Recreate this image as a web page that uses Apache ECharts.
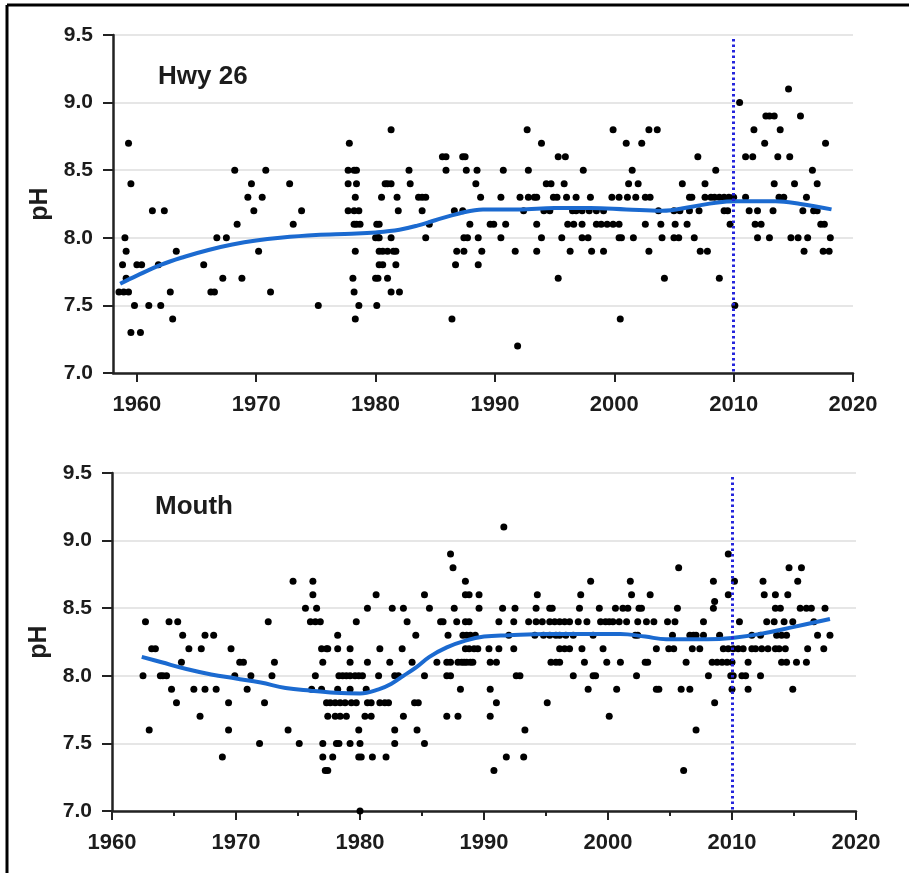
<!DOCTYPE html>
<html>
<head>
<meta charset="utf-8">
<script src="https://cdn.jsdelivr.net/npm/echarts@6/dist/echarts.min.js"></script>
<style>
  html, body { margin: 0; padding: 0; background: #fff; }
  #chart { width: 909px; height: 873px; }
</style>
</head>
<body>
<div id="chart"></div>
<script>
// year, pH readings at Hwy 26
var hwyPoints = [
  [1958.5,7.6],[1958.8,7.8],[1958.9,7.6],[1959.0,8.0],[1959.1,7.9],[1959.1,7.7],[1959.3,8.7],[1959.3,7.6],[1959.5,8.4],[1959.5,7.3],[1959.8,7.5],[1960.0,7.8],[1960.3,7.3],[1960.4,7.8],
  [1961.0,7.5],[1961.3,8.2],[1961.8,7.8],[1962.0,7.5],[1962.3,8.2],[1962.8,7.6],[1963.0,7.4],[1963.3,7.9],
  [1965.6,7.8],[1966.2,7.6],[1966.5,7.6],[1966.7,8.0],[1967.2,7.7],[1967.5,8.0],[1968.2,8.5],[1968.4,8.1],[1968.8,7.7],[1969.3,8.3],[1969.6,8.4],[1969.8,8.2],[1970.2,7.9],[1970.5,8.3],[1970.8,8.5],[1971.2,7.6],[1972.8,8.4],[1973.1,8.1],[1973.8,8.2],[1975.2,7.5],
  [1977.7,8.5],[1977.7,8.4],[1977.7,8.2],[1977.8,8.7],[1978.1,7.7],[1978.2,8.5],[1978.2,8.2],[1978.2,8.1],[1978.2,7.6],[1978.3,8.3],[1978.3,7.9],[1978.3,7.4],[1978.4,8.5],[1978.4,8.4],[1978.4,8.1],[1978.6,8.2],[1978.6,7.5],[1978.7,8.1],
  [1980.0,8.0],[1980.0,7.7],[1980.1,8.1],[1980.1,7.5],[1980.2,8.0],[1980.2,7.7],[1980.3,8.1],[1980.3,8.0],[1980.3,7.9],[1980.3,7.8],[1980.5,8.3],[1980.6,7.9],[1980.6,7.8],[1980.8,8.4],[1981.0,8.4],[1981.0,7.9],[1981.0,7.7],[1981.3,8.8],[1981.3,8.4],[1981.3,8.0],[1981.3,7.6],[1981.5,7.9],[1981.7,7.9],[1981.7,7.8],[1981.8,8.3],[1981.9,8.2],[1982.0,7.6],
  [1982.8,8.5],[1982.9,8.4],[1983.6,8.3],[1983.9,8.3],[1983.9,8.2],[1984.2,8.3],[1984.2,8.0],[1984.5,8.1],
  [1985.6,8.6],[1985.9,8.6],[1985.9,8.5],[1986.4,7.4],[1986.6,8.2],[1986.7,7.8],[1986.8,7.9],[1987.3,8.6],[1987.3,8.2],[1987.4,8.0],[1987.4,7.9],[1987.5,8.6],[1987.6,8.5],[1987.7,8.0],[1987.9,8.1],[1988.4,8.4],[1988.5,8.5],[1988.6,8.0],[1988.6,7.8],[1988.8,8.3],[1988.9,7.9],
  [1989.6,8.1],[1989.9,8.1],[1990.5,8.3],[1990.5,8.0],[1990.7,8.5],[1990.9,8.1],[1991.7,7.9],[1991.9,7.2],[1992.1,8.3],[1992.4,8.2],[1992.7,8.8],[1992.8,8.5],[1992.8,8.3],[1993.3,8.3],[1993.5,8.3],[1993.5,8.1],[1993.5,7.9],[1993.9,8.7],[1993.9,8.0],[1994.1,8.2],[1994.3,8.4],[1994.6,8.2],[1994.7,8.4],[1994.9,8.3],[1995.2,8.3],[1995.3,8.6],[1995.3,7.7],[1995.6,8.0],[1995.8,8.4],[1995.9,8.6],[1996.0,8.3],[1996.1,8.1],[1996.3,7.9],[1996.5,8.2],[1996.6,8.1],[1996.8,8.3],[1996.8,8.2],
  [1997.3,8.2],[1997.3,8.1],[1997.3,8.0],[1997.4,8.5],[1997.8,8.0],[1997.9,8.2],[1998.0,8.3],[1998.1,7.9],[1998.5,8.2],[1998.5,8.1],[1998.9,8.1],[1999.1,8.2],[1999.1,7.9],[1999.4,8.1],[1999.8,8.3],[1999.9,8.8],[1999.9,8.1],
  [2000.4,8.3],[2000.4,8.1],[2000.4,8.0],[2000.5,7.4],[2000.6,8.0],[2001.0,8.7],[2001.1,8.3],[2001.2,8.4],[2001.5,8.5],[2001.6,8.0],[2001.8,8.3],[2002.0,8.4],[2002.3,8.7],[2002.6,8.3],[2002.6,8.1],[2002.9,8.8],[2002.9,7.9],[2003.0,8.3],[2003.6,8.8],[2003.7,8.2],[2003.9,8.1],[2004.0,8.0],[2004.2,7.7],
  [2005.0,8.2],[2005.0,8.0],[2005.1,8.1],[2005.4,8.0],[2005.5,8.2],[2005.7,8.4],[2006.1,8.1],[2006.3,8.3],[2006.3,8.2],[2006.5,8.3],[2006.7,8.0],[2007.0,8.6],[2007.1,8.2],[2007.2,7.9],[2007.6,8.4],[2007.6,8.3],[2007.8,7.9],[2008.1,8.3],[2008.4,8.3],[2008.5,8.5],[2008.8,8.3],[2008.8,7.7],[2009.2,8.3],[2009.2,8.2],[2009.5,8.2],[2009.6,8.3],[2009.7,8.1],[2010.0,8.3],[2010.1,7.5],[2010.5,9.0],
  [2011.0,8.6],[2011.0,8.3],[2011.3,8.2],[2011.6,8.6],[2011.7,8.8],[2011.8,8.1],[2012.0,8.2],[2012.0,8.0],[2012.3,8.1],[2012.6,8.7],[2012.7,8.9],[2013.0,8.9],[2013.0,8.0],[2013.3,8.2],[2013.4,8.9],[2013.4,8.4],[2013.7,8.6],[2013.8,8.3],[2013.9,8.8],[2014.2,8.3],[2014.6,9.1],[2014.7,8.6],[2014.8,8.0],[2015.1,8.4],[2015.4,8.0],[2015.6,8.9],[2015.8,8.2],[2015.9,7.9],[2016.1,8.3],[2016.2,8.0],[2016.6,8.5],[2016.7,8.2],[2017.0,8.4],[2017.0,8.2],[2017.3,8.1],[2017.5,7.9],[2017.6,8.1],[2017.7,8.7],[2018.0,7.9],[2018.1,8.0]
];

// year, pH readings at the Mouth
var mouthPoints = [
  [1962.5,8.0],[1962.7,8.4],[1963.0,7.6],[1963.2,8.2],[1963.5,8.2],[1963.9,8.0],[1964.1,8.0],[1964.4,8.0],[1964.6,8.4],[1964.8,7.9],[1965.2,7.8],[1965.3,8.4],[1965.6,8.1],[1965.7,8.3],[1966.2,8.2],[1966.6,7.9],[1967.1,7.7],[1967.2,8.2],[1967.5,7.9],[1967.5,8.3],[1968.2,8.3],[1968.4,7.9],[1968.9,7.4],[1969.4,7.8],[1969.4,7.6],[1969.6,8.2],[1969.9,8.0],[1970.3,8.1],[1970.6,8.1],[1970.9,7.9],[1971.2,8.0],[1971.9,7.5],[1972.3,7.8],[1972.6,8.4],[1972.9,8.0],[1973.1,8.1],[1974.2,7.6],[1974.6,8.7],[1975.1,7.5],
  [1975.6,8.5],[1976.0,8.4],[1976.1,7.9],[1976.2,8.7],[1976.2,8.6],[1976.4,8.4],[1976.4,8.0],[1976.5,8.5],[1976.8,8.4],[1976.9,8.2],[1976.9,7.9],[1977.0,8.1],[1977.0,7.5],[1977.0,7.4],[1977.2,7.3],[1977.3,8.2],[1977.3,7.8],[1977.4,8.2],[1977.4,7.7],[1977.4,7.3],[1977.6,7.8],[1977.8,7.4],[1978.0,7.8],[1978.0,7.7],[1978.1,7.5],[1978.2,8.3],[1978.2,8.2],[1978.2,7.9],[1978.3,8.0],[1978.3,7.5],[1978.4,7.8],[1978.4,7.7],[1978.6,8.0],[1978.8,7.8],[1978.9,8.0],[1978.9,7.7],
  [1979.2,8.2],[1979.2,8.1],[1979.2,8.0],[1979.2,7.9],[1979.2,7.5],[1979.3,7.8],[1979.6,8.0],[1979.7,8.4],[1979.7,7.8],[1979.9,8.0],[1979.9,7.6],[1979.9,7.4],[1980.0,7.5],[1980.0,7.0],[1980.1,7.4],[1980.2,8.0],[1980.4,7.7],[1980.5,7.9],[1980.6,8.5],[1980.6,8.1],[1980.6,7.8],[1980.9,7.8],[1980.9,7.7],[1981.0,7.4],[1981.3,8.6],[1981.5,8.0],[1981.6,8.2],[1981.6,7.8],[1982.0,7.8],[1982.1,7.4],[1982.3,7.8],[1982.4,8.1],[1982.6,8.5],[1982.8,8.0],[1982.8,7.6],[1982.8,7.5],[1983.1,8.0],[1983.4,8.2],[1983.5,8.5],[1983.5,7.7],[1983.8,8.4],[1984.2,8.1],[1984.4,7.8],[1984.5,8.3],[1984.6,7.6],[1984.7,7.8],[1985.2,8.6],[1985.2,8.0],[1985.2,7.5],[1985.6,8.5],
  [1986.2,8.1],[1986.5,8.4],[1986.7,8.4],[1987.0,8.1],[1987.0,8.0],[1987.0,7.7],[1987.1,8.3],[1987.3,8.9],[1987.3,8.1],[1987.3,8.0],[1987.5,8.8],[1987.6,8.5],[1987.8,8.4],[1987.9,8.1],[1987.9,7.7],[1988.1,7.9],[1988.2,8.1],[1988.3,8.3],[1988.4,8.1],[1988.5,8.7],[1988.5,8.6],[1988.5,8.4],[1988.5,8.2],[1988.6,8.3],[1988.6,8.1],[1988.8,8.6],[1988.8,8.4],[1988.8,8.2],[1988.9,8.3],[1988.9,8.1],[1989.1,8.1],[1989.2,8.2],[1989.3,8.3],[1989.5,8.2],[1989.6,8.6],[1989.6,8.5],
  [1990.4,8.2],[1990.5,8.1],[1990.5,7.9],[1990.5,7.7],[1990.8,7.3],[1991.0,8.1],[1991.0,7.8],[1991.2,8.4],[1991.2,8.2],[1991.5,8.5],[1991.6,9.1],[1991.8,7.4],[1992.0,8.3],[1992.4,8.4],[1992.4,8.2],[1992.5,8.5],[1992.6,8.0],[1992.9,8.0],[1993.2,7.4],[1993.3,7.6],[1993.6,8.4],[1994.1,8.3],[1994.2,8.5],[1994.2,8.4],[1994.3,8.6],[1994.7,8.4],[1994.8,8.3],[1995.1,7.8],[1995.3,8.5],[1995.3,8.4],[1995.3,8.3],[1995.4,8.1],[1995.5,8.5],[1995.7,8.4],[1995.8,8.3],[1995.8,8.1],
  [1996.1,8.4],[1996.1,8.3],[1996.1,8.2],[1996.1,8.1],[1996.5,8.4],[1996.5,8.2],[1996.6,8.3],[1996.9,8.4],[1996.9,8.2],[1997.2,8.3],[1997.2,8.0],[1997.6,8.4],[1997.7,8.5],[1997.8,8.6],[1997.9,8.2],[1998.1,8.1],[1998.3,8.4],[1998.4,7.9],[1998.6,8.7],[1998.8,8.3],[1998.8,8.0],[1999.0,8.0],[1999.3,8.5],[1999.4,8.4],[1999.6,8.2],[1999.8,8.4],[1999.9,8.1],
  [2000.1,8.4],[2000.1,7.7],[2000.4,8.4],[2000.6,8.5],[2000.7,7.9],[2000.9,8.4],[2001.0,8.1],[2001.2,8.5],[2001.5,8.4],[2001.6,8.5],[2001.8,8.7],[2001.9,8.6],[2002.2,8.3],[2002.3,8.0],[2002.4,8.4],[2002.4,8.3],[2002.5,8.5],[2002.7,8.5],[2003.0,8.1],[2003.1,8.4],[2003.2,8.1],[2003.4,8.6],[2003.7,8.4],[2003.9,8.2],[2003.9,7.9],[2004.1,7.9],[2004.8,8.4],[2004.9,8.2],[2005.2,8.3],[2005.3,8.2],[2005.4,8.4],[2005.6,8.5],[2005.7,8.8],[2005.9,7.9],[2006.1,7.3],[2006.3,8.1],[2006.6,8.3],[2006.6,7.9],[2006.8,8.2],[2006.9,8.3],[2007.1,8.3],[2007.1,7.6],[2007.4,8.2],[2007.7,8.4],[2007.7,8.3],
  [2008.1,8.0],[2008.4,8.1],[2008.5,8.7],[2008.5,8.5],[2008.6,8.55],[2008.6,7.8],[2008.8,8.1],[2009.0,8.3],[2009.2,8.1],[2009.3,8.2],[2009.6,8.1],[2009.7,8.9],[2009.7,8.6],[2009.7,8.2],[2009.9,8.0],[2010.0,8.1],[2010.0,7.9],[2010.1,8.2],[2010.1,8.0],[2010.2,8.7],[2010.5,8.2],[2010.6,8.4],[2010.8,8.0],[2010.9,8.2],
  [2011.1,8.0],[2011.3,8.1],[2011.3,7.9],[2011.6,8.3],[2011.6,8.2],[2011.9,8.2],[2012.3,8.3],[2012.3,8.0],[2012.4,8.2],[2012.5,8.7],[2012.6,8.6],[2012.8,8.4],[2012.9,8.2],[2013.4,8.4],[2013.5,8.6],[2013.5,8.5],[2013.5,8.2],[2013.6,8.3],[2013.8,8.2],[2013.9,8.5],[2014.0,8.3],[2014.0,8.1],[2014.2,8.4],[2014.3,8.2],[2014.4,8.3],[2014.4,8.1],[2014.5,8.6],[2014.6,8.8],[2014.9,8.4],[2014.9,7.9],[2015.2,8.1],[2015.3,8.7],[2015.5,8.5],[2015.6,8.8],[2016.0,8.5],[2016.0,8.1],[2016.1,8.2],[2016.4,8.5],[2016.6,8.4],[2016.9,8.3],[2017.4,8.2],[2017.5,8.5],[2017.9,8.3]
];

// smoothed trend
var hwyTrend = [
  [1958.6,7.66],[1960,7.72],[1962,7.8],[1964,7.86],[1966,7.91],[1968,7.95],[1970,7.98],[1972,8.0],[1975,8.02],[1978,8.03],[1980,8.04],[1982,8.06],[1983.5,8.09],[1985,8.13],[1987,8.18],[1989,8.21],[1992,8.21],[1995,8.22],[1998,8.22],[2001,8.21],[2004,8.2],[2006.5,8.23],[2008.5,8.26],[2010.3,8.27],[2013.5,8.27],[2015.6,8.25],[2018.2,8.21]
];
var mouthTrend = [
  [1962.4,8.14],[1964,8.1],[1966,8.05],[1968,8.01],[1970,7.98],[1972,7.95],[1974,7.91],[1976,7.89],[1978,7.875],[1980,7.87],[1981.5,7.9],[1982.5,7.94],[1983.5,8.0],[1984.5,8.06],[1985.6,8.14],[1987,8.21],[1988.5,8.26],[1990,8.29],[1992,8.3],[1995,8.31],[1998,8.31],[2001,8.31],[2003,8.29],[2004.7,8.27],[2008,8.27],[2010,8.28],[2012.3,8.31],[2014.9,8.36],[2017.9,8.42]
];

var yearTicks = [1960, 1970, 1980, 1990, 2000, 2010, 2020];
var markYear = 2010;

var FONT = '"Liberation Sans", Arial, sans-serif';
var INK = '#1c1c1c';
var DOT = '#000000';
var TREND = '#1b6ad0';
var MARK = '#2525dc';

function xAxisFor (gridIndex, minYear, useCustom) {
  var ax = {
    type: 'value',
    gridIndex: gridIndex,
    min: minYear,
    max: 2020,
    axisLine: { onZero: false, lineStyle: { color: '#222', width: 2.5 } },
    axisTick: { length: 9, lineStyle: { color: '#222', width: 2 } },
    axisLabel: { margin: 21, color: INK, fontFamily: FONT, fontWeight: 'bold', fontSize: 22,
      formatter: function (v) { return String(v) } },
    splitLine: { show: false }
  }
  if (useCustom) {
    // axis starts at 1958 but ticks sit on the decades
    ax.axisTick.customValues = yearTicks
    ax.axisLabel.customValues = yearTicks
  } else {
    ax.interval = 10
    ax.minorTick = { show: true, splitNumber: 2, length: 5, lineStyle: { color: '#222', width: 2 } }
  }
  return ax
}

function yAxisFor (gridIndex) {
  return {
    type: 'value',
    gridIndex: gridIndex,
    min: 7.0,
    max: 9.5,
    interval: 0.5,
    name: 'pH',
    nameLocation: 'middle',
    nameGap: 56,
    nameTextStyle: { color: INK, fontFamily: FONT, fontWeight: 'bold', fontSize: 25 },
    axisLine: { show: true, lineStyle: { color: '#222', width: 2.5 } },
    axisTick: { show: true, length: 10, lineStyle: { color: '#222', width: 2 } },
    axisLabel: { margin: 20, color: INK, fontFamily: FONT, fontWeight: 'bold', fontSize: 21,
      formatter: function (v) { return v.toFixed(1) } },
    splitLine: { show: true, lineStyle: { color: '#e6e6e6', width: 2 } }
  }
}

function markLineAt () {
  return {
    silent: true,
    symbol: 'none',
    label: { show: false },
    lineStyle: { type: [2.5, 3], color: MARK, width: 3 },
    data: [[{ coord: [markYear, 9.47] }, { coord: [markYear, 7.0] }]]
  }
}

var chart = echarts.init(document.getElementById('chart'))
chart.setOption({
  backgroundColor: '#fff',
  animation: false,
  grid: [
    { left: 113, top: 35, width: 740, height: 338 },
    { left: 112, top: 473, width: 744, height: 338 }
  ],
  xAxis: [xAxisFor(0, 1958, true), xAxisFor(1, 1960, false)],
  yAxis: [yAxisFor(0), yAxisFor(1)],
  graphic: [
    { type: 'line', shape: { x1: 7, y1: 5, x2: 909, y2: 5 }, style: { stroke: '#000', lineWidth: 3 } },
    { type: 'line', shape: { x1: 7, y1: 5, x2: 7, y2: 873 }, style: { stroke: '#000', lineWidth: 3 } },
    { type: 'text', left: 158, top: 64, style: { text: 'Hwy 26', fill: INK, font: 'bold 26px ' + FONT } },
    { type: 'text', left: 155, top: 494, style: { text: 'Mouth', fill: INK, font: 'bold 26px ' + FONT } }
  ],
  series: [
    {
      name: 'Hwy 26',
      type: 'scatter',
      xAxisIndex: 0,
      yAxisIndex: 0,
      symbolSize: 7,
      itemStyle: { color: DOT, opacity: 1 },
      data: hwyPoints,
      markLine: markLineAt()
    },
    {
      name: 'Hwy 26 trend',
      type: 'line',
      xAxisIndex: 0,
      yAxisIndex: 0,
      smooth: 0.4,
      showSymbol: false,
      lineStyle: { color: TREND, width: 4 },
      data: hwyTrend
    },
    {
      name: 'Mouth',
      type: 'scatter',
      xAxisIndex: 1,
      yAxisIndex: 1,
      symbolSize: 7,
      itemStyle: { color: DOT, opacity: 1 },
      data: mouthPoints,
      markLine: markLineAt()
    },
    {
      name: 'Mouth trend',
      type: 'line',
      xAxisIndex: 1,
      yAxisIndex: 1,
      smooth: 0.4,
      showSymbol: false,
      lineStyle: { color: TREND, width: 4 },
      data: mouthTrend
    }
  ]
})
</script>
</body>
</html>
